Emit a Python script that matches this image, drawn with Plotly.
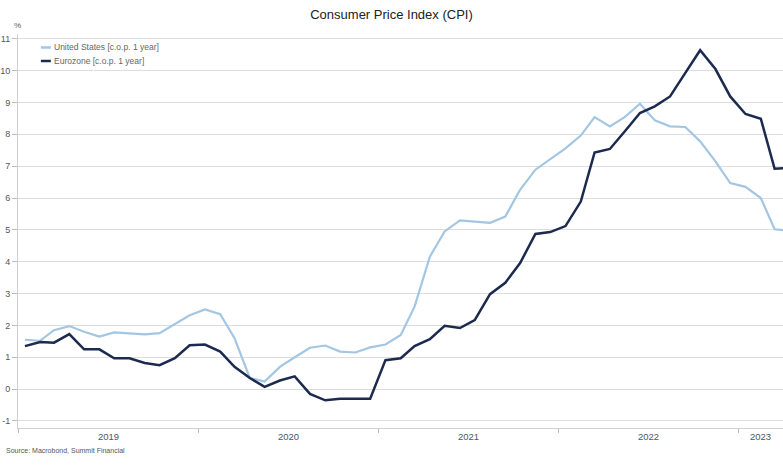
import pandas as pd
import plotly.graph_objects as go

# Monthly year-on-year CPI change (%), Jan 2019 - Apr 2023
us_cpi = [
    1.55, 1.52, 1.85, 1.98, 1.80, 1.65, 1.78, 1.75, 1.72, 1.76, 2.05, 2.32,   # 2019
    2.50, 2.35, 1.60, 0.35, 0.24, 0.70, 1.00, 1.30, 1.37, 1.18, 1.15, 1.31,   # 2020
    1.40, 1.70, 2.59, 4.16, 4.95, 5.30, 5.26, 5.22, 5.42, 6.26, 6.89, 7.22,   # 2021
    7.56, 7.96, 8.54, 8.25, 8.54, 8.96, 8.44, 8.25, 8.23, 7.78, 7.15, 6.47,   # 2022
    6.35, 6.00, 5.02, 4.97,                                                   # 2023
]
ez_cpi = [
    1.35, 1.48, 1.46, 1.73, 1.25, 1.25, 0.97, 0.97, 0.82, 0.75, 0.97, 1.38,   # 2019
    1.40, 1.18, 0.70, 0.35, 0.07, 0.27, 0.40, -0.15, -0.35, -0.30, -0.30, -0.30,  # 2020
    0.91, 0.97, 1.35, 1.57, 1.99, 1.92, 2.17, 2.98, 3.34, 3.96, 4.87, 4.93,   # 2021
    5.12, 5.89, 7.43, 7.54, 8.09, 8.67, 8.88, 9.19, 9.93, 10.64, 10.05, 9.19, # 2022
    8.64, 8.49, 6.92, 6.95,                                                   # 2023
]
months = pd.date_range("2019-01-01", periods=len(us_cpi), freq="MS") + pd.Timedelta(days=14)

series_names = ["United States [c.o.p. 1 year]", "Eurozone [c.o.p. 1 year]"]
series_colors = ["#a3c6e3", "#1b2a4e"]
years = [2019, 2020, 2021, 2022, 2023]
y_ticks = list(range(-1, 12))

x_start = pd.Timestamp("2019-01-01")
x_end = pd.Timestamp("2023-04-01")

fig = go.Figure()
fig.add_trace(go.Scatter(x=months, y=us_cpi, mode="lines", name=series_names[0],
                         line=dict(color=series_colors[0], width=2.2), showlegend=False))
fig.add_trace(go.Scatter(x=months, y=ez_cpi, mode="lines", name=series_names[1],
                         line=dict(color=series_colors[1], width=2.5), showlegend=False))

font_family = "Liberation Sans, Arial, sans-serif"
grid = "#dedede"

fig.update_layout(
    width=783, height=465,
    margin=dict(l=14, r=0, t=34, b=37),
    paper_bgcolor="white", plot_bgcolor="white",
    font=dict(family=font_family, color="#555555", size=9),
    title=dict(text="Consumer Price Index (CPI)", x=0.5, xanchor="center",
               y=1 - 14.5 / 465, yanchor="middle",
               font=dict(size=13, color="#222222", family=font_family)),
)

fig.update_xaxes(
    type="date", range=[x_start, x_end],
    tickvals=[pd.Timestamp(f"{y}-01-01") for y in years],
    showticklabels=False, ticks="outside", ticklen=4, tickcolor="#bbbbbb",
    showgrid=False, showline=True, linecolor="#d0d0d0", linewidth=1, zeroline=False,
)
fig.update_yaxes(
    range=[-1.22, 11.15], tickvals=y_ticks, ticktext=[str(v) for v in y_ticks],
    ticks="outside", ticklen=5, tickcolor="#bbbbbb",
    showgrid=True, gridcolor=grid, gridwidth=1,
    showline=True, linecolor="#d0d0d0", zeroline=False,
    tickfont=dict(size=9, color="#555555"),
)

# Year labels centred in each (visible) year
for y in years:
    a = pd.Timestamp(f"{y}-01-01")
    b = min(pd.Timestamp(f"{y + 1}-01-01"), x_end)
    mid = a + (b - a) / 2
    fig.add_annotation(x=mid, y=0, xref="x", yref="paper", yshift=-8,
                       text=str(y), showarrow=False,
                       font=dict(size=9.5, color="#555555"), yanchor="middle")

# Legend drawn as short line samples with labels
plot_h = 465 - 34 - 37
for i, (name, col) in enumerate(zip(series_names, series_colors)):
    ypix = 47.5 + 13.5 * i
    yp = (465 - 37 - ypix) / plot_h
    fig.add_shape(type="line", xref="paper", yref="paper",
                  x0=(37 - 14) / 769, x1=(47 - 14) / 769, y0=yp, y1=yp,
                  line=dict(color=col, width=2.5))
    fig.add_annotation(xref="paper", yref="paper", x=(48 - 14) / 769, y=yp,
                       text=name, showarrow=False, xanchor="left", yanchor="middle",
                       font=dict(size=8.5, color="#666666"))

# Unit label and source note
fig.add_annotation(xref="paper", yref="paper", x=(13 - 14) / 769,
                   y=(465 - 37 - 25) / plot_h, text="%", showarrow=False,
                   xanchor="center", yanchor="middle", font=dict(size=8, color="#555555"))
fig.add_annotation(xref="paper", yref="paper", x=-14 / 769,
                   y=(465 - 37 - 450) / plot_h, text="Source: Macrobond, Summit Financial",
                   showarrow=False, xanchor="left", yanchor="middle",
                   font=dict(size=7, color="#555555"))

fig.write_html("out.html")
